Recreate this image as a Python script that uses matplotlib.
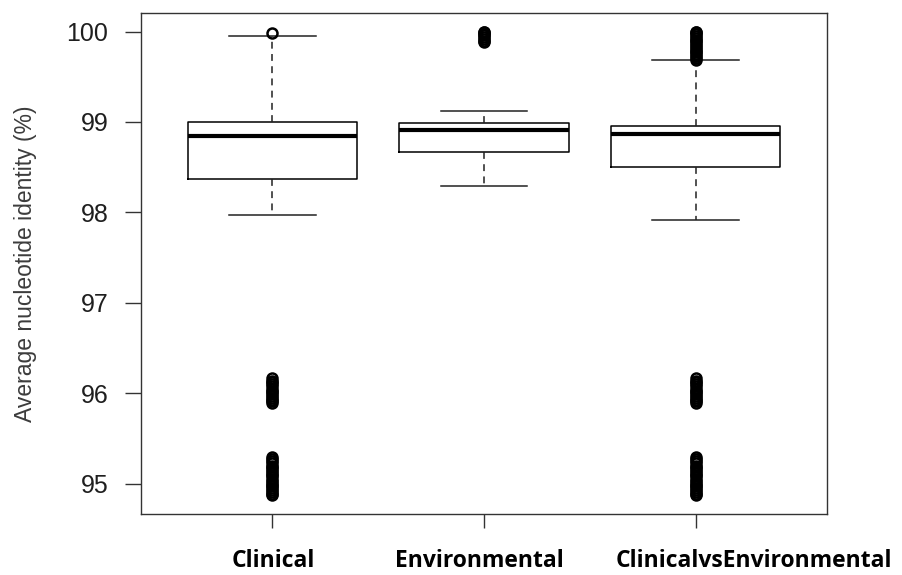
import matplotlib
matplotlib.use("Agg")
import matplotlib.pyplot as plt

# Groups and summary statistics (average nucleotide identity, %)
groups = ["Clinical", "Environmental", "ClinicalvsEnvironmental"]
q1 = [98.37, 98.67, 98.50]
median = [98.84, 98.91, 98.87]
q3 = [99.00, 98.99, 98.96]
whisker_low = [97.97, 98.29, 97.92]
whisker_high = [99.95, 99.12, 99.68]

# Outlying pairwise values per group
fliers_clinical = [99.98,
                   96.17, 96.14, 96.12, 96.10, 96.08, 96.05, 96.03, 96.01, 95.99,
                   95.97, 95.95, 95.93, 95.91, 95.89,
                   95.29, 95.27, 95.25, 95.23, 95.20, 95.18, 95.16, 95.14, 95.12,
                   95.10, 95.08, 95.05, 95.03, 95.01, 94.99, 94.97, 94.95, 94.93,
                   94.91, 94.89, 94.87]
fliers_environmental = [100.00, 99.99, 99.97, 99.96, 99.94, 99.92, 99.90, 99.88]
fliers_between = [100.00, 99.99, 99.97, 99.95, 99.93, 99.91, 99.89, 99.87, 99.85,
                  99.83, 99.81, 99.79, 99.77, 99.75, 99.73, 99.71, 99.69,
                  96.17, 96.14, 96.12, 96.10, 96.08, 96.05, 96.03, 96.01, 95.99,
                  95.97, 95.95, 95.93, 95.91, 95.89,
                  95.29, 95.27, 95.25, 95.23, 95.20, 95.18, 95.16, 95.14, 95.12,
                  95.10, 95.08, 95.05, 95.03, 95.01, 94.99, 94.97, 94.95, 94.93,
                  94.91, 94.89, 94.87]
fliers = [fliers_clinical, fliers_environmental, fliers_between]

y_ticks = [95, 96, 97, 98, 99, 100]
y_label = "Average nucleotide identity (%)"

# Layout
label_x = [1.003, 1.977, 3.276]   # horizontal centres of the group names
positions = [1, 2, 3]

stats = []
for i, name in enumerate(groups):
    stats.append(dict(label=name, med=median[i], q1=q1[i], q3=q3[i],
                      whislo=whisker_low[i], whishi=whisker_high[i],
                      fliers=fliers[i]))

fig = plt.figure(figsize=(9.03, 5.75), dpi=100)
ax = fig.add_axes([141 / 903, 61 / 575, 686 / 903, 501 / 575])

ax.bxp(stats, positions=positions, widths=0.8, capwidths=0.41,
       showfliers=True,
       boxprops=dict(color="black", linewidth=1.1),
       medianprops=dict(color="black", linewidth=3.0, solid_capstyle="butt"),
       whiskerprops=dict(color="#222222", linewidth=1.1,
                         linestyle=(0, (4.5, 3.5))),
       capprops=dict(color="#222222", linewidth=1.1),
       flierprops=dict(marker="o", markersize=7.2, markerfacecolor="none",
                       markeredgecolor="black", markeredgewidth=1.8,
                       linestyle="none"))

ax.set_xlim(0.38, 3.62)
ax.set_ylim(94.665, 100.205)

for sp in ax.spines.values():
    sp.set_color("#333333")
    sp.set_linewidth(1.0)

ax.set_yticks(y_ticks)
ax.set_yticklabels([str(v) for v in y_ticks])
ax.tick_params(axis="y", length=11.5, width=1.0, color="#333333",
               pad=12, labelsize=18, labelcolor="#1f1f1f")
ax.set_xticks(positions)
ax.set_xticklabels([])
ax.tick_params(axis="x", length=10, width=1.0, color="#333333")

for name, xc in zip(groups, label_x):
    ax.text(xc, -0.1058, name, transform=ax.get_xaxis_transform(),
            ha="center", va="baseline", fontsize=16.5, fontweight="bold",
            family="Open Sans", color="black")

ax.set_ylabel(y_label, fontsize=16.5, color="#3c3c3c", family="Liberation Sans")
ax.yaxis.set_label_coords(-0.152, 0.5)
for t in ax.get_yticklabels():
    t.set_family("Liberation Sans")

fig.savefig("out.png", dpi=100)
